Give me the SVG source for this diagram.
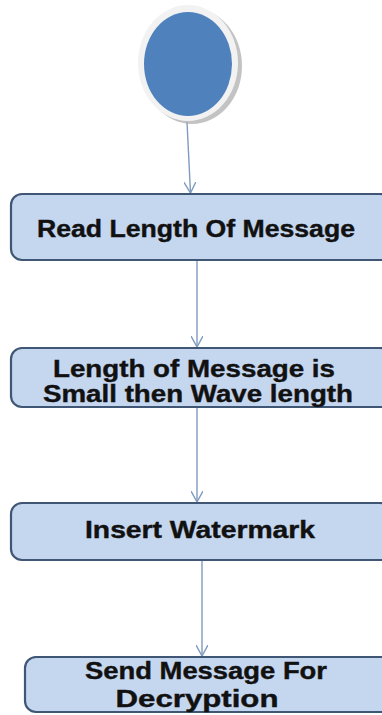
<svg xmlns="http://www.w3.org/2000/svg" width="382" height="715" viewBox="0 0 382 715">
<style>
.box{fill:#c5d6ef;stroke:#3f5775;stroke-width:2.2}
.lbl{font-family:"Liberation Sans",Arial,sans-serif;font-weight:bold;font-size:24px;fill:#111;stroke:#111;stroke-width:0.4;text-anchor:middle}
.con{stroke:#7f9bbf;stroke-width:1.4;fill:none}
</style>
<defs>
<marker id="arr" viewBox="0 0 12 12" refX="11" refY="6" markerWidth="12" markerHeight="12" markerUnits="userSpaceOnUse" orient="auto">
<path d="M0,0 L11,6 L0,12" fill="none" stroke="#7f9bbf" stroke-width="1.4"/>
</marker>
</defs>
<g id="connectors">
<line class="con" x1="187" y1="122" x2="190.5" y2="193" marker-end="url(#arr)"/>
<line class="con" x1="197" y1="260" x2="197" y2="347" marker-end="url(#arr)"/>
<line class="con" x1="197" y1="407" x2="197" y2="502" marker-end="url(#arr)"/>
<line class="con" x1="202" y1="560" x2="202" y2="656" marker-end="url(#arr)"/>
</g>
<g id="start">
<ellipse cx="192" cy="66" rx="50" ry="58" fill="#a9a9a9" opacity="0.7"/>
<ellipse cx="188" cy="63" rx="50" ry="58" fill="#f2f2f2"/>
<ellipse cx="188" cy="64" rx="44" ry="52" fill="#4f81bd"/>
</g>
<g id="n1">
<rect class="box" x="11" y="194" width="380" height="66" rx="11"/>
<text class="lbl" x="196" y="237" textLength="318" lengthAdjust="spacingAndGlyphs">Read Length Of Message</text>
</g>
<g id="n2">
<rect class="box" x="11" y="348" width="380" height="59" rx="11"/>
<text class="lbl" x="194" y="377" textLength="282" lengthAdjust="spacingAndGlyphs">Length of Message is</text>
<text class="lbl" x="198" y="402" textLength="310" lengthAdjust="spacingAndGlyphs">Small then Wave length</text>
</g>
<g id="n3">
<rect class="box" x="11" y="503" width="380" height="57" rx="11"/>
<text class="lbl" x="200" y="538" textLength="230" lengthAdjust="spacingAndGlyphs">Insert Watermark</text>
</g>
<g id="n4">
<rect class="box" x="25" y="657" width="370" height="55" rx="11"/>
<text class="lbl" x="206" y="679" textLength="242" lengthAdjust="spacingAndGlyphs">Send Message For</text>
<text class="lbl" x="197" y="707" textLength="163" lengthAdjust="spacingAndGlyphs">Decryption</text>
</g>
</svg>
